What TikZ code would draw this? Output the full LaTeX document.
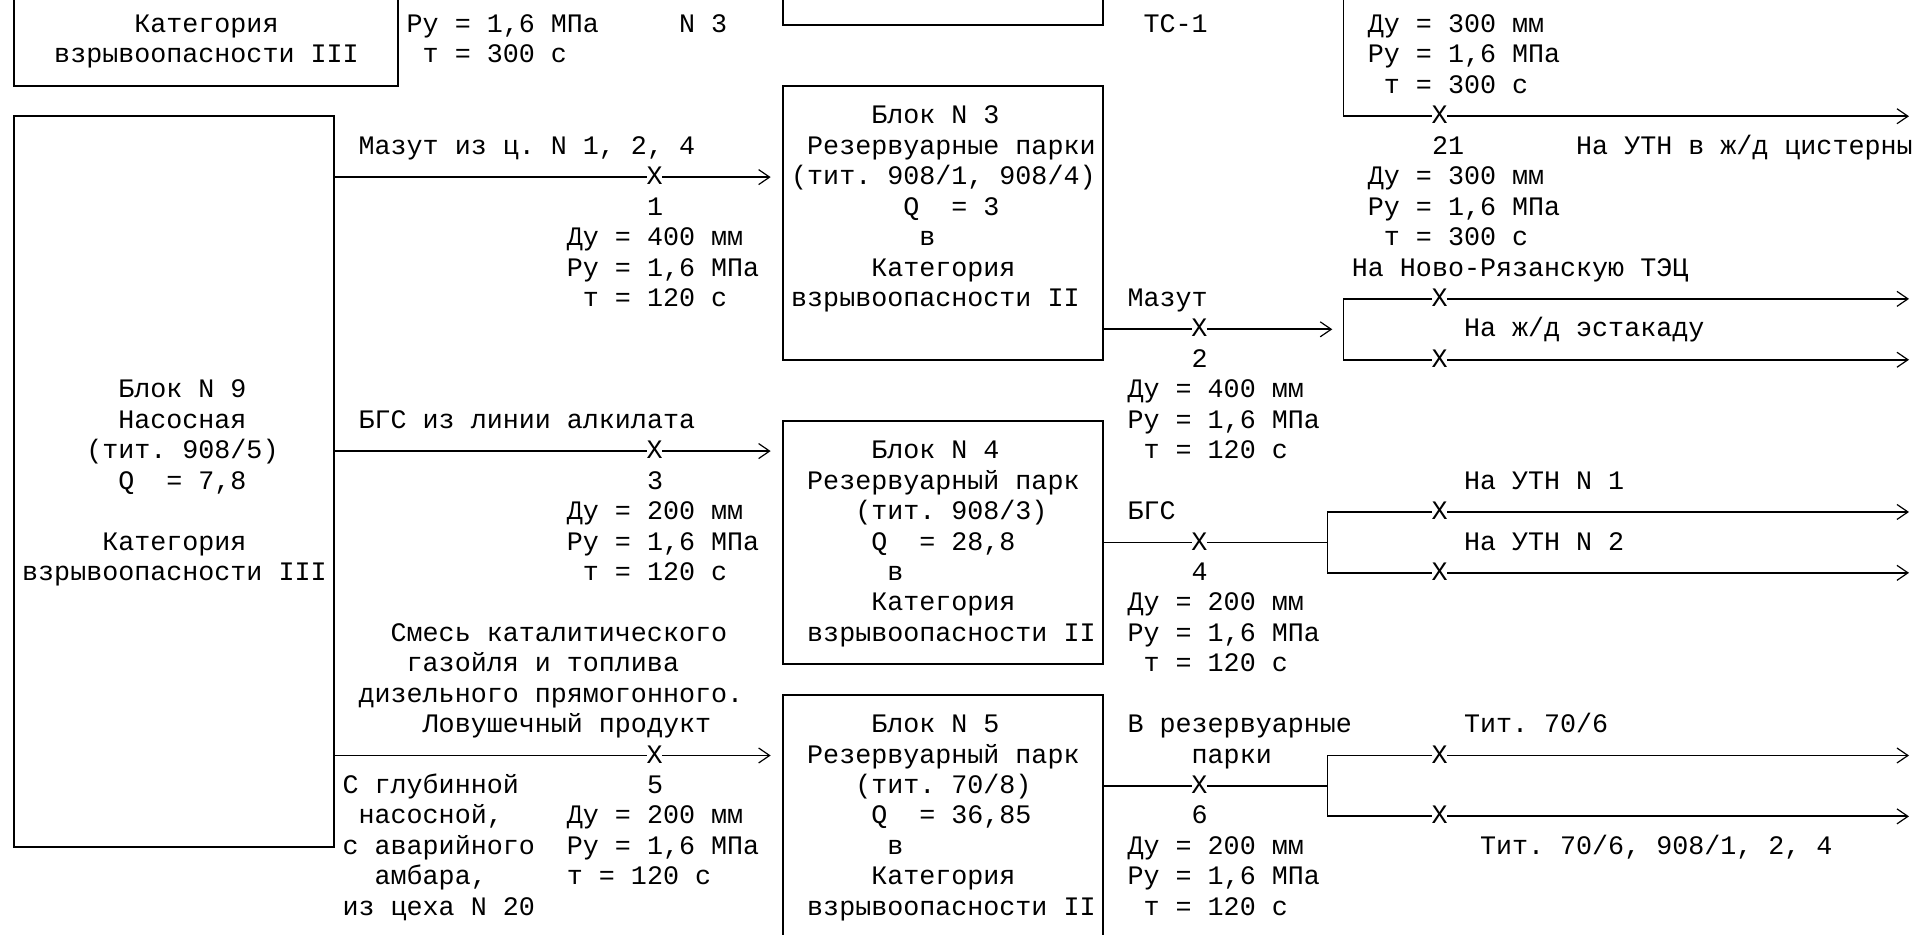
\documentclass[tikz,border=0pt]{standalone}
\usepackage{fontspec}
\setmonofont{Liberation Mono}
\usetikzlibrary{arrows.meta,fit}
\tikzset{
  blk/.style={draw,line width=0.9pt,inner sep=0pt},
  txt/.style={anchor=west,inner sep=0pt,text height=7.6pt,text depth=0pt},
  vlv/.style={inner xsep=-0.4pt,inner ysep=0pt,text height=7.6pt,text depth=0pt},
  pipe/.style={line width=0.9pt},
  flow/.style={pipe,-{Straight Barb[length=5.5pt,width=7.5pt,line width=0.6pt]}}
}
\begin{document}
\frenchspacing
\begin{tikzpicture}[x=8.01pt,y=-15.22pt,every node/.style={font=\ttfamily\fontsize{13.35}{16}\selectfont}]
\useasboundingbox (-0.861,-0.818) rectangle (118.8,29.866);
\node[blk,fit={(0,-3)(24,2)}](ktop){};
\node[blk,fit={(48,-3)(68,0)}](btop){};
\node[blk,fit={(0,3)(20,27)}](n9){};
\node[blk,fit={(48,2)(68,11)}](n3){};
\node[blk,fit={(48,13)(68,21)}](n4){};
\node[blk,fit={(48,22)(68,33)}](n5){};
\foreach \n/\c/\r in {1/40/5,3/40/14,5/40/24,2/74/10,4/74/17,6/74/25,21/89/3,2a/89/9,2b/89/11,4a/89/16,4b/89/18,6a/89/24,6b/89/26}{\node[vlv](v\n) at (\c,\r){X};}
\coordinate (j2) at (83,10);
\coordinate (j4) at (82,17);
\coordinate (j6) at (82,25);
\coordinate (p21) at (83,-2);
\coordinate (rim) at (118.3,0);
\foreach \n/\b in {1/n3,3/n4,5/n5}{\draw[pipe](n9.east|-v\n)--(v\n);\draw[flow](v\n)--([xshift=-5.6pt]\b.west|-v\n);}
\draw[pipe](n3.east|-v2)--(v2);\draw[flow](v2)--([xshift=-5.6pt]j2);
\draw[pipe](v2a)-|(j2)|-(v2b);
\draw[pipe](n4.east|-v4)--(v4)--(j4);\draw[pipe](v4a)-|(j4)|-(v4b);
\draw[pipe](n5.east|-v6)--(v6)--(j6);\draw[pipe](v6a)-|(j6)|-(v6b);
\draw[pipe](p21)|-(v21);
\foreach \n in {21,2a,2b,4a,4b,6a,6b}{\draw[flow](v\n)--(rim|-v\n);}
\foreach \c/\r/\t [count=\i] in {8/0/{Категория},3/1/{взрывоопасности III},25/0/{Ру = 1,6 МПа},42/0/{N 3},26/1/{т = 300 с},71/0/{ТС-1},85/0/{Ду = 300 мм},85/1/{Ру = 1,6 МПа},86/2/{т = 300 с},89/4/{21},98/4/{На УТН в ж/д цистерны},85/5/{Ду = 300 мм},85/6/{Ру = 1,6 МПа},86/7/{т = 300 с},84/8/{На Ново-Рязанскую ТЭЦ},91/10/{На ж/д эстакаду},
7/12/{Блок N 9},7/13/{Насосная},5/14/{(тит. 908/5)},7/15/{Q\ \ = 7,8},6/17/{Категория},1/18/{взрывоопасности III},
22/4/{Мазут из ц. N 1, 2, 4},40/6/{1},35/7/{Ду = 400 мм},35/8/{Ру = 1,6 МПа},36/9/{т = 120 с},
22/13/{БГС из линии алкилата},40/15/{3},35/16/{Ду = 200 мм},35/17/{Ру = 1,6 МПа},36/18/{т = 120 с},
24/20/{Смесь каталитического},25/21/{газойля и топлива},22/22/{дизельного прямогонного.},26/23/{Ловушечный продукт},40/25/{5},21/25/{С глубинной},22/26/{насосной,},35/26/{Ду = 200 мм},21/27/{с аварийного},35/27/{Ру = 1,6 МПа},23/28/{амбара,},35/28/{т = 120 с},21/29/{из цеха N 20},
54/3/{Блок N 3},50/4/{Резервуарные парки},49/5/{(тит. 908/1, 908/4)},56/6/{Q\ \ = 3},57/7/{в},54/8/{Категория},49/9/{взрывоопасности II},
70/9/{Мазут},74/11/{2},70/12/{Ду = 400 мм},70/13/{Ру = 1,6 МПа},71/14/{т = 120 с},
54/14/{Блок N 4},50/15/{Резервуарный парк},53/16/{(тит. 908/3)},54/17/{Q\ \ = 28,8},55/18/{в},54/19/{Категория},50/20/{взрывоопасности II},
70/16/{БГС},74/18/{4},70/19/{Ду = 200 мм},70/20/{Ру = 1,6 МПа},71/21/{т = 120 с},91/15/{На УТН N 1},91/17/{На УТН N 2},
54/23/{Блок N 5},50/24/{Резервуарный парк},53/25/{(тит. 70/8)},54/26/{Q\ \ = 36,85},55/27/{в},54/28/{Категория},50/29/{взрывоопасности II},
70/23/{В резервуарные},74/24/{парки},74/26/{6},70/27/{Ду = 200 мм},70/28/{Ру = 1,6 МПа},71/29/{т = 120 с},91/23/{Тит. 70/6},92/27/{Тит. 70/6, 908/1, 2, 4}}{\node[txt](t\i) at (\c-0.5,\r){\t};}
\end{tikzpicture}
\end{document}
